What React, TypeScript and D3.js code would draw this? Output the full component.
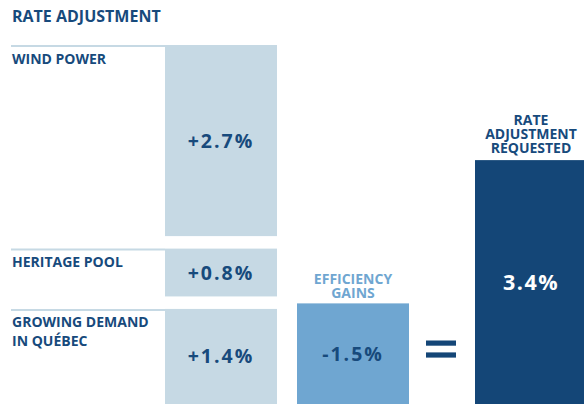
import React from "react";
import * as d3 from "d3";

const title = "RATE ADJUSTMENT";
const componentNames = [["WIND POWER"], ["HERITAGE POOL"], ["GROWING DEMAND", "IN QUÉBEC"]];
const componentValues = [2.7, 0.8, 1.4];
const componentLabels = ["+2.7%", "+0.8%", "+1.4%"];
const efficiencyName = ["EFFICIENCY", "GAINS"];
const efficiencyValue = -1.5;
const efficiencyLabel = "-1.5%";
const requestedName = ["RATE", "ADJUSTMENT", "REQUESTED"];
const requestedValue = 3.4;
const requestedLabel = "3.4%";

const W = 584;
const H = 404;
const FONT = "'Open Sans', 'Noto Sans', sans-serif";
const NAVY = "#174a7c";
const LIGHT = "#c6d9e4";
const MID = "#6fa6d1";
const DARK = "#144677";

export default function App() {
  const top = 45;
  const bottom = H;
  const gap = 12.5;
  const total = d3.sum(componentValues);
  const hScale = d3.scaleLinear().domain([0, total]).range([0, bottom + gap - top - 2]);
  const blockH = (v: number) => hScale(Math.abs(v)) - gap;
  const cum = d3.cumsum([0, ...componentValues]);

  const blockW = 112;
  const stackX = 165;
  const effX = 297;
  const reqX = 475;
  const eqX = 426;

  const effTop = bottom - blockH(efficiencyValue);
  const reqTop = bottom - blockH(requestedValue);

  return (
    <svg
      width={W}
      height={H}
      style={{ position: "absolute", left: 0, top: 0, background: "#fff" }}
      fontFamily={FONT}
      fontWeight={700}
    >
      <text x={12} y={21.7} fontSize={16} fill={NAVY}>{title}</text>

      {componentValues.map((v, i) => {
        const y0 = top + hScale(cum[i]);
        const h = i === componentValues.length - 1 ? bottom - y0 : blockH(v);
        return (
          <g key={i}>
            <line x1={11} x2={stackX} y1={y0 + 1} y2={y0 + 1} stroke={LIGHT} strokeWidth={2} />
            <rect x={stackX} y={y0} width={blockW} height={h} fill={LIGHT} />
            {componentNames[i].map((t, j) => (
              <text key={j} x={12} y={y0 + 18.5 + j * 19} fontSize={14} fill={NAVY}>{t}</text>
            ))}
            <text
              x={stackX + blockW / 2}
              y={y0 + h / 2}
              dy="0.36em"
              textAnchor="middle"
              fontSize={19.5}
              letterSpacing={2}
              fill={NAVY}
            >{componentLabels[i]}</text>
          </g>
        );
      })}

      <rect x={effX} y={effTop} width={blockW} height={bottom - effTop} fill={MID} />
      {efficiencyName.map((t, j) => (
        <text key={j} x={effX + blockW / 2} y={effTop - 19.5 + j * 14.5} textAnchor="middle" fontSize={14} fill={MID}>{t}</text>
      ))}
      <text
        x={effX + blockW / 2}
        y={(effTop + bottom) / 2}
        dy="0.36em"
        textAnchor="middle"
        fontSize={19.5}
        letterSpacing={2}
        fill={NAVY}
      >{efficiencyLabel}</text>

      <rect x={eqX} y={340.5} width={30} height={5.2} fill={DARK} />
      <rect x={eqX} y={352.4} width={30} height={5.2} fill={DARK} />

      <rect x={reqX} y={reqTop} width={blockW} height={bottom - reqTop} fill={DARK} />
      {requestedName.map((t, j) => (
        <text key={j} x={reqX + 56} y={reqTop - 35.5 + j * 14.3} textAnchor="middle" fontSize={14} fill={NAVY}>{t}</text>
      ))}
      <text
        x={reqX + blockW / 2}
        y={(reqTop + bottom) / 2}
        dy="0.36em"
        textAnchor="middle"
        fontSize={21.5}
        letterSpacing={1.5}
        fill="#fff"
      >{requestedLabel}</text>
    </svg>
  );
}
